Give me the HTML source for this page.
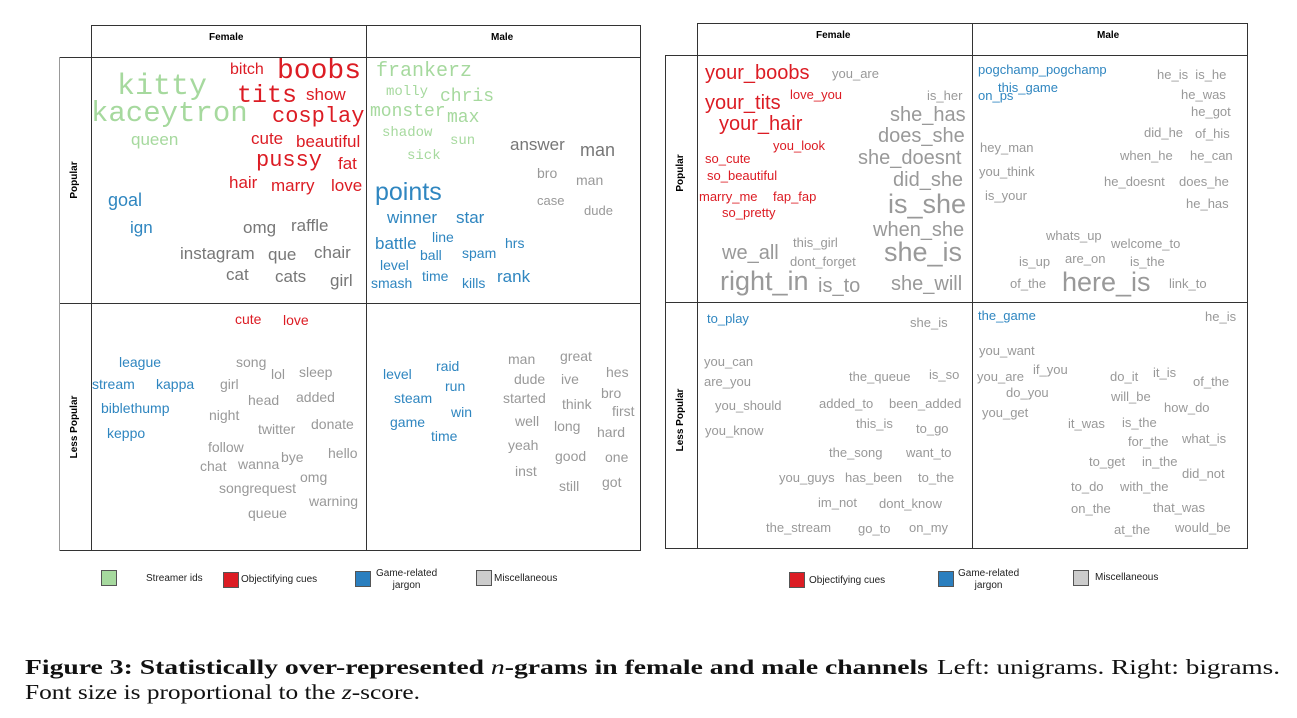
<!DOCTYPE html>
<html><head><meta charset="utf-8"><style>
body{margin:0;width:1297px;height:718px;background:#fff;position:relative;overflow:hidden;font-family:"Liberation Sans",sans-serif}
.w{position:absolute;line-height:1;white-space:nowrap}
.m{font-family:"Liberation Mono","DejaVu Sans Mono",monospace}
.g{color:#a6d99e}.r{color:#dc1c24}.b{color:#2f86c0}.k{color:#777}.l{color:#999}
.ln{position:absolute;background:#333}
.hd{position:absolute;font-size:10px;font-weight:bold;line-height:1}
.vl{position:absolute;font-size:10px;font-weight:bold;transform:rotate(-90deg);transform-origin:center;white-space:nowrap;line-height:1}
.box{position:absolute;width:14px;height:14px;border:1px solid #555}
.lg{position:absolute;font-size:10px;color:#222;line-height:1.2}
</style></head><body>
<!-- LEFT PANEL grid -->
<div class="ln" style="left:91px;top:25px;width:549px;height:1px"></div>
<div class="ln" style="left:59px;top:57px;width:581px;height:1px"></div>
<div class="ln" style="left:59px;top:303px;width:581px;height:1px"></div>
<div class="ln" style="left:59px;top:550px;width:581px;height:1px"></div>
<div class="ln" style="left:91px;top:25px;width:1px;height:526px"></div>
<div class="ln" style="left:366px;top:25px;width:1px;height:526px"></div>
<div class="ln" style="left:640px;top:25px;width:1px;height:526px"></div>
<div class="ln" style="left:59px;top:57px;width:1px;height:494px;background:#999"></div>
<div class="hd" style="left:209px;top:33px">Female</div>
<div class="hd" style="left:491px;top:33px">Male</div>
<div class="vl" style="left:55px;top:175px;width:40px;text-align:center">Popular</div>
<div class="vl" style="left:40px;top:422px;width:70px;text-align:center">Less Popular</div>

<!-- left popular female -->
<div class="w m g" style="left:117px;top:72px;font-size:30px">kitty</div>
<div class="w m g" style="left:91px;top:99px;font-size:29px">kaceytron</div>
<div class="w g" style="left:131px;top:131px;font-size:17px">queen</div>
<div class="w r" style="left:230px;top:62px;font-size:16px">bitch</div>
<div class="w m r" style="left:277px;top:58px;font-size:28px">boobs</div>
<div class="w m r" style="left:237px;top:83px;font-size:25px">tits</div>
<div class="w r" style="left:306px;top:86px;font-size:17px">show</div>
<div class="w m r" style="left:272px;top:106px;font-size:22px">cosplay</div>
<div class="w r" style="left:251px;top:130px;font-size:17px">cute</div>
<div class="w r" style="left:296px;top:133px;font-size:17px">beautiful</div>
<div class="w m r" style="left:256px;top:150px;font-size:22px">pussy</div>
<div class="w r" style="left:338px;top:155px;font-size:17px">fat</div>
<div class="w r" style="left:229px;top:174px;font-size:17px">hair</div>
<div class="w r" style="left:271px;top:177px;font-size:17px">marry</div>
<div class="w r" style="left:331px;top:177px;font-size:17px">love</div>
<div class="w b" style="left:108px;top:191px;font-size:18px">goal</div>
<div class="w b" style="left:130px;top:219px;font-size:17px">ign</div>
<div class="w k" style="left:243px;top:219px;font-size:17px">omg</div>
<div class="w k" style="left:291px;top:217px;font-size:17px">raffle</div>
<div class="w k" style="left:180px;top:245px;font-size:17px">instagram</div>
<div class="w k" style="left:268px;top:246px;font-size:17px">que</div>
<div class="w k" style="left:314px;top:244px;font-size:17px">chair</div>
<div class="w k" style="left:226px;top:266px;font-size:17px">cat</div>
<div class="w k" style="left:275px;top:268px;font-size:17px">cats</div>
<div class="w k" style="left:330px;top:272px;font-size:17px">girl</div>

<!-- left popular male -->
<div class="w m g" style="left:376px;top:62px;font-size:20px">frankerz</div>
<div class="w m g" style="left:386px;top:85px;font-size:14px">molly</div>
<div class="w m g" style="left:440px;top:88px;font-size:18px">chris</div>
<div class="w m g" style="left:370px;top:103px;font-size:18px">monster</div>
<div class="w m g" style="left:447px;top:109px;font-size:18px">max</div>
<div class="w m g" style="left:382px;top:126px;font-size:14px">shadow</div>
<div class="w m g" style="left:450px;top:134px;font-size:14px">sun</div>
<div class="w m g" style="left:407px;top:149px;font-size:14px">sick</div>
<div class="w k" style="left:510px;top:136px;font-size:17px">answer</div>
<div class="w k" style="left:580px;top:141px;font-size:18px">man</div>
<div class="w l" style="left:537px;top:166px;font-size:14px">bro</div>
<div class="w l" style="left:576px;top:173px;font-size:14px">man</div>
<div class="w l" style="left:537px;top:194px;font-size:13px">case</div>
<div class="w l" style="left:584px;top:204px;font-size:13px">dude</div>
<div class="w b" style="left:375px;top:180px;font-size:25px">points</div>
<div class="w b" style="left:387px;top:209px;font-size:17px">winner</div>
<div class="w b" style="left:456px;top:209px;font-size:17px">star</div>
<div class="w b" style="left:375px;top:235px;font-size:17px">battle</div>
<div class="w b" style="left:432px;top:230px;font-size:14px">line</div>
<div class="w b" style="left:420px;top:248px;font-size:14px">ball</div>
<div class="w b" style="left:462px;top:246px;font-size:14px">spam</div>
<div class="w b" style="left:505px;top:236px;font-size:14px">hrs</div>
<div class="w b" style="left:380px;top:258px;font-size:14px">level</div>
<div class="w b" style="left:422px;top:269px;font-size:14px">time</div>
<div class="w b" style="left:462px;top:276px;font-size:14px">kills</div>
<div class="w b" style="left:497px;top:268px;font-size:17px">rank</div>
<div class="w b" style="left:371px;top:276px;font-size:14px">smash</div>

<!-- left less female -->
<div class="w r" style="left:235px;top:312px;font-size:14px">cute</div>
<div class="w r" style="left:283px;top:313px;font-size:14px">love</div>
<div class="w b" style="left:119px;top:355px;font-size:14px">league</div>
<div class="w b" style="left:92px;top:377px;font-size:14px">stream</div>
<div class="w b" style="left:156px;top:377px;font-size:14px">kappa</div>
<div class="w b" style="left:101px;top:401px;font-size:14px">biblethump</div>
<div class="w b" style="left:107px;top:426px;font-size:14px">keppo</div>
<div class="w l" style="left:236px;top:355px;font-size:14px">song</div>
<div class="w l" style="left:271px;top:367px;font-size:14px">lol</div>
<div class="w l" style="left:299px;top:365px;font-size:14px">sleep</div>
<div class="w l" style="left:220px;top:377px;font-size:14px">girl</div>
<div class="w l" style="left:248px;top:393px;font-size:14px">head</div>
<div class="w l" style="left:296px;top:390px;font-size:14px">added</div>
<div class="w l" style="left:209px;top:408px;font-size:14px">night</div>
<div class="w l" style="left:258px;top:422px;font-size:14px">twitter</div>
<div class="w l" style="left:311px;top:417px;font-size:14px">donate</div>
<div class="w l" style="left:208px;top:440px;font-size:14px">follow</div>
<div class="w l" style="left:328px;top:446px;font-size:14px">hello</div>
<div class="w l" style="left:200px;top:459px;font-size:14px">chat</div>
<div class="w l" style="left:238px;top:457px;font-size:14px">wanna</div>
<div class="w l" style="left:281px;top:450px;font-size:14px">bye</div>
<div class="w l" style="left:300px;top:470px;font-size:14px">omg</div>
<div class="w l" style="left:219px;top:481px;font-size:14px">songrequest</div>
<div class="w l" style="left:309px;top:494px;font-size:14px">warning</div>
<div class="w l" style="left:248px;top:506px;font-size:14px">queue</div>

<!-- left less male -->
<div class="w b" style="left:436px;top:359px;font-size:14px">raid</div>
<div class="w b" style="left:383px;top:367px;font-size:14px">level</div>
<div class="w b" style="left:445px;top:379px;font-size:14px">run</div>
<div class="w b" style="left:394px;top:391px;font-size:14px">steam</div>
<div class="w b" style="left:451px;top:405px;font-size:14px">win</div>
<div class="w b" style="left:390px;top:415px;font-size:14px">game</div>
<div class="w b" style="left:431px;top:429px;font-size:14px">time</div>
<div class="w l" style="left:508px;top:352px;font-size:14px">man</div>
<div class="w l" style="left:560px;top:349px;font-size:14px">great</div>
<div class="w l" style="left:514px;top:372px;font-size:14px">dude</div>
<div class="w l" style="left:561px;top:372px;font-size:14px">ive</div>
<div class="w l" style="left:606px;top:365px;font-size:14px">hes</div>
<div class="w l" style="left:503px;top:391px;font-size:14px">started</div>
<div class="w l" style="left:601px;top:386px;font-size:14px">bro</div>
<div class="w l" style="left:562px;top:397px;font-size:14px">think</div>
<div class="w l" style="left:612px;top:404px;font-size:14px">first</div>
<div class="w l" style="left:515px;top:414px;font-size:14px">well</div>
<div class="w l" style="left:554px;top:419px;font-size:14px">long</div>
<div class="w l" style="left:597px;top:425px;font-size:14px">hard</div>
<div class="w l" style="left:508px;top:438px;font-size:14px">yeah</div>
<div class="w l" style="left:555px;top:449px;font-size:14px">good</div>
<div class="w l" style="left:605px;top:450px;font-size:14px">one</div>
<div class="w l" style="left:515px;top:464px;font-size:14px">inst</div>
<div class="w l" style="left:559px;top:479px;font-size:14px">still</div>
<div class="w l" style="left:602px;top:475px;font-size:14px">got</div>

<!-- RIGHT PANEL grid -->
<div class="ln" style="left:697px;top:23px;width:550px;height:1px"></div>
<div class="ln" style="left:665px;top:55px;width:582px;height:1px"></div>
<div class="ln" style="left:665px;top:302px;width:582px;height:1px"></div>
<div class="ln" style="left:665px;top:548px;width:582px;height:1px"></div>
<div class="ln" style="left:665px;top:55px;width:1px;height:494px"></div>
<div class="ln" style="left:697px;top:23px;width:1px;height:526px"></div>
<div class="ln" style="left:972px;top:23px;width:1px;height:526px"></div>
<div class="ln" style="left:1247px;top:23px;width:1px;height:526px"></div>
<div class="hd" style="left:816px;top:31px">Female</div>
<div class="hd" style="left:1097px;top:31px">Male</div>
<div class="vl" style="left:661px;top:168px;width:40px;text-align:center">Popular</div>
<div class="vl" style="left:646px;top:415px;width:70px;text-align:center">Less Popular</div>

<!-- right popular female -->
<div class="w r" style="left:705px;top:63px;font-size:20px">your_boobs</div>
<div class="w l" style="left:832px;top:67px;font-size:13px">you_are</div>
<div class="w r" style="left:705px;top:93px;font-size:20px">your_tits</div>
<div class="w r" style="left:790px;top:88px;font-size:13px">love_you</div>
<div class="w r" style="left:719px;top:114px;font-size:20px">your_hair</div>
<div class="w l" style="left:927px;top:89px;font-size:13px">is_her</div>
<div class="w l" style="left:890px;top:105px;font-size:20px">she_has</div>
<div class="w l" style="left:878px;top:126px;font-size:20px">does_she</div>
<div class="w r" style="left:773px;top:139px;font-size:13px">you_look</div>
<div class="w l" style="left:858px;top:148px;font-size:20px">she_doesnt</div>
<div class="w r" style="left:705px;top:152px;font-size:13px">so_cute</div>
<div class="w r" style="left:707px;top:169px;font-size:13px">so_beautiful</div>
<div class="w l" style="left:893px;top:170px;font-size:20px">did_she</div>
<div class="w r" style="left:699px;top:190px;font-size:13px">marry_me</div>
<div class="w r" style="left:773px;top:190px;font-size:13px">fap_fap</div>
<div class="w r" style="left:722px;top:206px;font-size:13px">so_pretty</div>
<div class="w l" style="left:888px;top:191px;font-size:27px">is_she</div>
<div class="w l" style="left:873px;top:220px;font-size:20px">when_she</div>
<div class="w l" style="left:793px;top:236px;font-size:13px">this_girl</div>
<div class="w l" style="left:722px;top:243px;font-size:20px">we_all</div>
<div class="w l" style="left:790px;top:255px;font-size:13px">dont_forget</div>
<div class="w l" style="left:884px;top:239px;font-size:27px">she_is</div>
<div class="w l" style="left:720px;top:268px;font-size:27px">right_in</div>
<div class="w l" style="left:818px;top:276px;font-size:20px">is_to</div>
<div class="w l" style="left:891px;top:274px;font-size:20px">she_will</div>

<!-- right popular male -->
<div class="w b" style="left:978px;top:63px;font-size:13px">pogchamp_pogchamp</div>
<div class="w b" style="left:998px;top:81px;font-size:13px">this_game</div>
<div class="w b" style="left:978px;top:89px;font-size:13px">on_ps</div>
<div class="w l" style="left:1157px;top:68px;font-size:13px">he_is&nbsp; is_he</div>
<div class="w l" style="left:1181px;top:88px;font-size:13px">he_was</div>
<div class="w l" style="left:1191px;top:105px;font-size:13px">he_got</div>
<div class="w l" style="left:1144px;top:126px;font-size:13px">did_he</div>
<div class="w l" style="left:1195px;top:127px;font-size:13px">of_his</div>
<div class="w l" style="left:980px;top:141px;font-size:13px">hey_man</div>
<div class="w l" style="left:1120px;top:149px;font-size:13px">when_he</div>
<div class="w l" style="left:1190px;top:149px;font-size:13px">he_can</div>
<div class="w l" style="left:979px;top:165px;font-size:13px">you_think</div>
<div class="w l" style="left:1104px;top:175px;font-size:13px">he_doesnt</div>
<div class="w l" style="left:1179px;top:175px;font-size:13px">does_he</div>
<div class="w l" style="left:985px;top:189px;font-size:13px">is_your</div>
<div class="w l" style="left:1186px;top:197px;font-size:13px">he_has</div>
<div class="w l" style="left:1046px;top:229px;font-size:13px">whats_up</div>
<div class="w l" style="left:1111px;top:237px;font-size:13px">welcome_to</div>
<div class="w l" style="left:1019px;top:255px;font-size:13px">is_up</div>
<div class="w l" style="left:1065px;top:252px;font-size:13px">are_on</div>
<div class="w l" style="left:1130px;top:255px;font-size:13px">is_the</div>
<div class="w l" style="left:1010px;top:277px;font-size:13px">of_the</div>
<div class="w l" style="left:1062px;top:269px;font-size:27px">here_is</div>
<div class="w l" style="left:1169px;top:277px;font-size:13px">link_to</div>

<!-- right less female -->
<div class="w b" style="left:707px;top:312px;font-size:13px">to_play</div>
<div class="w l" style="left:910px;top:316px;font-size:13px">she_is</div>
<div class="w l" style="left:704px;top:355px;font-size:13px">you_can</div>
<div class="w l" style="left:704px;top:375px;font-size:13px">are_you</div>
<div class="w l" style="left:849px;top:370px;font-size:13px">the_queue</div>
<div class="w l" style="left:929px;top:368px;font-size:13px">is_so</div>
<div class="w l" style="left:715px;top:399px;font-size:13px">you_should</div>
<div class="w l" style="left:819px;top:397px;font-size:13px">added_to</div>
<div class="w l" style="left:889px;top:397px;font-size:13px">been_added</div>
<div class="w l" style="left:705px;top:424px;font-size:13px">you_know</div>
<div class="w l" style="left:856px;top:417px;font-size:13px">this_is</div>
<div class="w l" style="left:916px;top:422px;font-size:13px">to_go</div>
<div class="w l" style="left:829px;top:446px;font-size:13px">the_song</div>
<div class="w l" style="left:906px;top:446px;font-size:13px">want_to</div>
<div class="w l" style="left:779px;top:471px;font-size:13px">you_guys</div>
<div class="w l" style="left:845px;top:471px;font-size:13px">has_been</div>
<div class="w l" style="left:918px;top:471px;font-size:13px">to_the</div>
<div class="w l" style="left:818px;top:496px;font-size:13px">im_not</div>
<div class="w l" style="left:879px;top:497px;font-size:13px">dont_know</div>
<div class="w l" style="left:766px;top:521px;font-size:13px">the_stream</div>
<div class="w l" style="left:858px;top:522px;font-size:13px">go_to</div>
<div class="w l" style="left:909px;top:521px;font-size:13px">on_my</div>

<!-- right less male -->
<div class="w b" style="left:978px;top:309px;font-size:13px">the_game</div>
<div class="w l" style="left:1205px;top:310px;font-size:13px">he_is</div>
<div class="w l" style="left:979px;top:344px;font-size:13px">you_want</div>
<div class="w l" style="left:977px;top:370px;font-size:13px">you_are</div>
<div class="w l" style="left:1033px;top:363px;font-size:13px">if_you</div>
<div class="w l" style="left:1110px;top:370px;font-size:13px">do_it</div>
<div class="w l" style="left:1153px;top:366px;font-size:13px">it_is</div>
<div class="w l" style="left:1193px;top:375px;font-size:13px">of_the</div>
<div class="w l" style="left:1006px;top:386px;font-size:13px">do_you</div>
<div class="w l" style="left:1111px;top:390px;font-size:13px">will_be</div>
<div class="w l" style="left:982px;top:406px;font-size:13px">you_get</div>
<div class="w l" style="left:1164px;top:401px;font-size:13px">how_do</div>
<div class="w l" style="left:1068px;top:417px;font-size:13px">it_was</div>
<div class="w l" style="left:1122px;top:416px;font-size:13px">is_the</div>
<div class="w l" style="left:1128px;top:435px;font-size:13px">for_the</div>
<div class="w l" style="left:1182px;top:432px;font-size:13px">what_is</div>
<div class="w l" style="left:1089px;top:455px;font-size:13px">to_get</div>
<div class="w l" style="left:1142px;top:455px;font-size:13px">in_the</div>
<div class="w l" style="left:1182px;top:467px;font-size:13px">did_not</div>
<div class="w l" style="left:1071px;top:480px;font-size:13px">to_do</div>
<div class="w l" style="left:1120px;top:480px;font-size:13px">with_the</div>
<div class="w l" style="left:1071px;top:502px;font-size:13px">on_the</div>
<div class="w l" style="left:1153px;top:501px;font-size:13px">that_was</div>
<div class="w l" style="left:1114px;top:523px;font-size:13px">at_the</div>
<div class="w l" style="left:1175px;top:521px;font-size:13px">would_be</div>

<!-- legends -->
<div class="box" style="left:101px;top:570px;background:#a6d99e"></div>
<div class="lg" style="left:146px;top:573px">Streamer ids</div>
<div class="box" style="left:223px;top:572px;background:#dc1c24"></div>
<div class="lg" style="left:241px;top:574px">Objectifying cues</div>
<div class="box" style="left:355px;top:571px;background:#2b7fbf"></div>
<div class="lg" style="left:376px;top:568px;text-align:center">Game-related<br>jargon</div>
<div class="box" style="left:476px;top:570px;background:#ccc"></div>
<div class="lg" style="left:494px;top:573px">Miscellaneous</div>

<div class="box" style="left:789px;top:572px;background:#dc1c24"></div>
<div class="lg" style="left:809px;top:575px">Objectifying cues</div>
<div class="box" style="left:938px;top:571px;background:#2b7fbf"></div>
<div class="lg" style="left:958px;top:568px;text-align:center">Game-related<br>jargon</div>
<div class="box" style="left:1073px;top:570px;background:#ccc"></div>
<div class="lg" style="left:1095px;top:572px">Miscellaneous</div>

<!-- caption -->
<svg style="position:absolute;left:0;top:640px" width="1297" height="78">
<g font-family="Liberation Serif, serif" font-size="21" fill="#111">
<text x="25" y="34" textLength="903" lengthAdjust="spacingAndGlyphs" font-weight="bold">Figure 3: Statistically over-represented <tspan font-style="italic" font-weight="normal">n</tspan>-grams in female and male channels</text>
<text x="937" y="34" textLength="343" lengthAdjust="spacingAndGlyphs">Left: unigrams. Right: bigrams.</text>
<text x="25" y="59" textLength="395" lengthAdjust="spacingAndGlyphs">Font size is proportional to the <tspan font-style="italic">z</tspan>-score.</text>
</g></svg>
</body></html>
